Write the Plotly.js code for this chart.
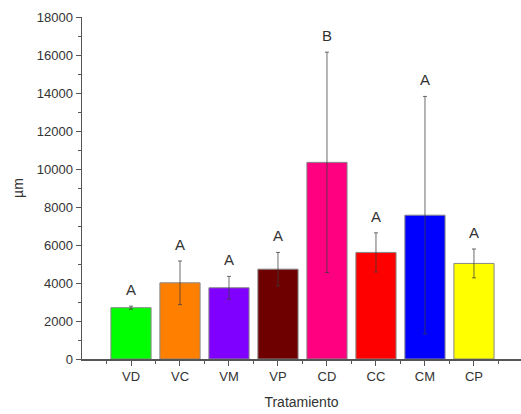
<!DOCTYPE html>
<html>
<head>
<meta charset="utf-8">
<script src="https://cdn.plot.ly/plotly-3.0.1.min.js"></script>
<style>html,body{margin:0;padding:0;background:#fff;}#chart{width:521px;height:414px;}</style>
</head>
<body>
<div id="chart"></div>
<script>
const categories = ["VD", "VC", "VM", "VP", "CD", "CC", "CM", "CP"];
const means = [2700, 4010, 3750, 4730, 10350, 5610, 7570, 5030];
const errors = [80, 1150, 600, 880, 5800, 1030, 6250, 760];
const letters = ["A", "A", "A", "A", "B", "A", "A", "A"];
const colors = ["#00ff00", "#ff8000", "#8000ff", "#6e0000", "#ff0080", "#ff0000", "#0000ff", "#ffff00"];
const yTicks = [0, 2000, 4000, 6000, 8000, 10000, 12000, 14000, 16000, 18000];
const yTickText = ["0", "2000", "4000", "6000", "8000", "10000", "12000", "14000", "16000", "18000"];

const xIdx = categories.map((c, i) => i);

const trace = {
  type: "bar",
  x: xIdx,
  y: means,
  width: 0.82,
  marker: {color: colors, line: {color: "#888", width: 1}},
  error_y: {type: "data", array: errors, visible: true, color: "rgba(60,60,60,0.75)", thickness: 1, width: 2}
};

const annotations = categories.map((c, i) => ({
  x: i, y: means[i] + errors[i], xref: "x", yref: "y",
  text: letters[i], showarrow: false, yanchor: "bottom", yshift: 6,
  font: {family: "Arial, Liberation Sans, sans-serif", size: 15, color: "#333"}
}));

const layout = {
  width: 521, height: 414,
  margin: {l: 82, r: 0, t: 17, b: 55},
  paper_bgcolor: "#fff", plot_bgcolor: "#fff",
  showlegend: false,
  font: {family: "Arial, Liberation Sans, sans-serif", color: "#333", size: 13},
  xaxis: {
    range: [-1, 7.96],
    tickvals: xIdx, ticktext: categories,
    ticks: "outside", ticklen: 5, tickcolor: "#555", tickwidth: 1,
    minor: {tickvals: [-0.5, 0.5, 1.5, 2.5, 3.5, 4.5, 5.5, 6.5, 7.5], ticks: "outside", ticklen: 3, tickcolor: "#555"},
    showline: true, linecolor: "#555", linewidth: 1.5,
    showgrid: false, zeroline: false,
    tickfont: {size: 13, color: "#333"},
    title: {text: "Tratamiento", font: {size: 14, color: "#333"}, standoff: 14}
  },
  yaxis: {
    range: [0, 18000],
    tickvals: yTicks, ticktext: yTickText,
    ticks: "outside", ticklen: 5, tickcolor: "#555", tickwidth: 1,
    minor: {dtick: 1000, ticks: "outside", ticklen: 3, tickcolor: "#555"},
    showline: true, linecolor: "#555", linewidth: 1.5,
    showgrid: false, zeroline: false,
    tickfont: {size: 13, color: "#333"},
    title: {text: "µm", font: {size: 14, color: "#333"}, standoff: 10}
  },
  annotations: annotations
};

Plotly.newPlot("chart", [trace], layout, {displayModeBar: false, staticPlot: true});
</script>
</body>
</html>
